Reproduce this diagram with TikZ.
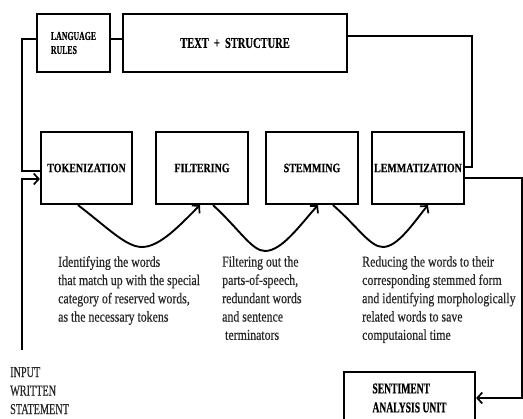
\documentclass[tikz,border=0pt]{standalone}
\usepackage{fontspec}
\setmainfont{Liberation Serif}
\newfontfamily\bodyf[FakeStretch=0.79,FakeBold=0.4]{Liberation Serif}
\newfontfamily\inpf[FakeStretch=0.68,FakeBold=0.4]{Liberation Serif}
\newfontfamily\labf[FakeStretch=0.78,FakeBold=0.4]{Liberation Serif}
\newfontfamily\tsf[FakeStretch=0.70,FakeBold=0.4]{Liberation Serif}
\newfontfamily\lrf[FakeStretch=0.65,FakeBold=0.4]{Liberation Serif}
\newfontfamily\saf[FakeStretch=0.64,FakeBold=0.4]{Liberation Serif}
\usetikzlibrary{arrows.meta}
\begin{document}
\begin{tikzpicture}[x=1pt,y=-1pt,
 box/.style={draw, line width=2.2pt, inner sep=0pt},
 conn/.style={line width=1.9pt},
 arr/.style={conn, -{Straight Barb[length=5pt,width=11pt,line width=1.7pt]}},
 proc/.style={box, minimum width=92pt, minimum height=72pt, font=\labf\bfseries\fontsize{12.8}{14}\selectfont},
 body/.style={anchor=north west, inner sep=0pt, align=left, text=black!85, font=\bodyf\fontsize{15}{18.3}\selectfont}
]
\useasboundingbox (0,0) rectangle (523,419);

\node[box, minimum width=73pt, minimum height=58pt, align=left, font=\lrf\bfseries\fontsize{12}{14}\selectfont] (lr) at (73.5,43) {LANGUAGE\\RULES};
\node[box, minimum width=224pt, minimum height=58pt, font=\tsf\bfseries\fontsize{15}{17}\selectfont] (ts) at (235,43) {TEXT \,+\, STRUCTURE};

\node[proc, minimum width=91pt] (tok) at (86.5,168) {TOKENIZATION};
\node[proc] (fil) at (202,168) {FILTERING};
\node[proc] (stem) at (312,168) {STEMMING};
\node[proc] (lem) at (418,168) {LEMMATIZATION};

\node[box, minimum width=131pt, minimum height=52pt, align=left, font=\saf\bfseries\fontsize{15}{19}\selectfont] (sa) at (409.5,398) {SENTIMENT\\ANALYSIS UNIT};

\node[anchor=north west, inner sep=0pt, align=left, text=black!85, font=\inpf\fontsize{15}{18.5}\selectfont] (inp) at (10,367) {INPUT\\WRITTEN\\STATEMENT};

\node[body] (d1) at (58,256) {Identifying the words\\that match up with the special\\category of reserved words,\\as the necessary tokens};
\node[body] (d2) at (222,256) {Filtering out the\\parts-of-speech,\\redundant words\\and sentence\\\ terminators};
\node[body] (d3) at (362,256) {Reducing the words to their\\corresponding stemmed form\\and identifying morphologically\\related words to save\\computaional time};

% feedback connectors
\draw[conn] (lr.east|-0,39) -- (ts.west|-0,39);
\draw[conn] (lr.west|-0,39) -| (22,171) -- (tok.west|-0,171);
\draw[conn] (ts.east|-0,36) -| (472,167) -- (lem.east|-0,167);

% input
\coordinate (inpt) at (22,350);
\draw[arr] (inpt) |- (tok.west|-0,179);

% output
\draw[arr] (lem.east|-0,178) -| (522,398) -- (sa.east);

% curved transitions
\draw[arr] (tok.south-|78,0) .. controls (108,228) and (126,247) .. (142,247)
  .. controls (160,247) and (180,225) .. (fil.south-|200,0);
\draw[arr] (fil.south-|213,0) .. controls (240,230) and (252,251) .. (265,251)
  .. controls (282,251) and (300,225) .. (stem.south-|318,0);
\draw[arr] (stem.south-|333,0) .. controls (358,227) and (370,247) .. (383,247)
  .. controls (398,247) and (414,222) .. (lem.south-|428,0);
\end{tikzpicture}
\end{document}
